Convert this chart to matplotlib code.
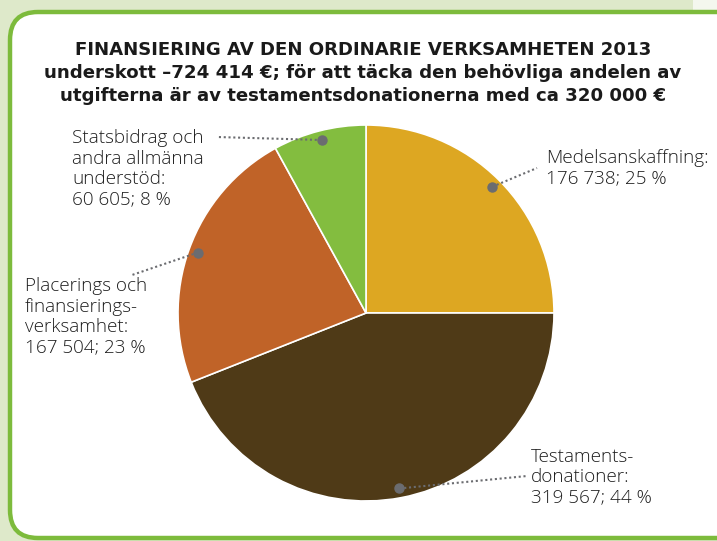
import matplotlib.pyplot as plt
import numpy as np
from matplotlib.patches import FancyBboxPatch, Rectangle

labels = [
    "Medelsanskaffning:\n176 738; 25 %",
    "Testaments-\ndonationer:\n319 567; 44 %",
    "Placerings och\nfinansierings-\nverksamhet:\n167 504; 23 %",
    "Statsbidrag och\nandra allmänna\nunderstöd:\n60 605; 8 %",
]
values = [176738, 319567, 167504, 60605]
percents = [25, 44, 23, 8]
colors = ["#DDA722", "#4F3A17", "#C06328", "#83BD3F"]
title = ("FINANSIERING AV DEN ORDINARIE VERKSAMHETEN 2013\n"
         "underskott \u2013724 414 €; för att täcka den behövliga andelen av\n"
         "utgifterna är av testamentsdonationerna med ca 320 000 €")

W, H = 717, 541
fig = plt.figure(figsize=(W / 100, H / 100), dpi=100, facecolor="#DEE9CA")
ax = fig.add_axes([0, 0, 1, 1])
ax.set_xlim(0, W)
ax.set_ylim(0, H)
ax.set_aspect("equal")
ax.axis("off")

ax.add_patch(Rectangle((693, H - 10), 30, 12, facecolor="#F4F7EE", edgecolor="none", zorder=0))
box = FancyBboxPatch((10, 3), 735, 526, boxstyle="round,pad=0,rounding_size=28",
                     facecolor="white", edgecolor="#7DBB3C", linewidth=3.2, zorder=1)
ax.add_patch(box)

# pie is drawn from the rounded percentages, as in the original
cx, cy, R = 366, H - 313, 188
ax.pie(percents, colors=colors, startangle=90, counterclock=False,
       center=(cx, cy), radius=R,
       wedgeprops=dict(edgecolor="white", linewidth=1.2, zorder=2))
ax.set_xlim(0, W)
ax.set_ylim(0, H)

ax.text(363, H - 73, title, ha="center", va="center", fontsize=13.1,
        fontweight="bold", family="DejaVu Sans", color="#1A1A1A",
        linespacing=1.33, zorder=6)

# label anchors (left, vertical centre) and leader ends, pixels from top-left
text_pos = [(546, 168), (531, 477), (25, 317), (72, 169)]
lead_end = [(537, 168), (527, 476), (132, 275), (217, 137)]

start = 90.0
for i, p in enumerate(percents):
    span = p / sum(percents) * 360
    mid = np.deg2rad(start - span / 2)
    start -= span
    dx, dy = cx + 0.95 * R * np.cos(mid), cy + 0.95 * R * np.sin(mid)
    ex, ey = lead_end[i]
    ax.plot([dx, ex], [dy, H - ey], color="#6B6C70", linestyle=(0, (1, 1.3)),
            linewidth=1.5, zorder=4)
    ax.plot(dx, dy, "o", color="#6B6C70", markersize=6.5, zorder=5)
    tx, ty = text_pos[i]
    ax.text(tx, H - ty, labels[i], ha="left", va="center", fontsize=13.6,
            family="Open Sans", fontweight="light", color="#1E1E1E",
            linespacing=1.17, zorder=6)

fig.savefig("out.png", dpi=100, facecolor=fig.get_facecolor())
